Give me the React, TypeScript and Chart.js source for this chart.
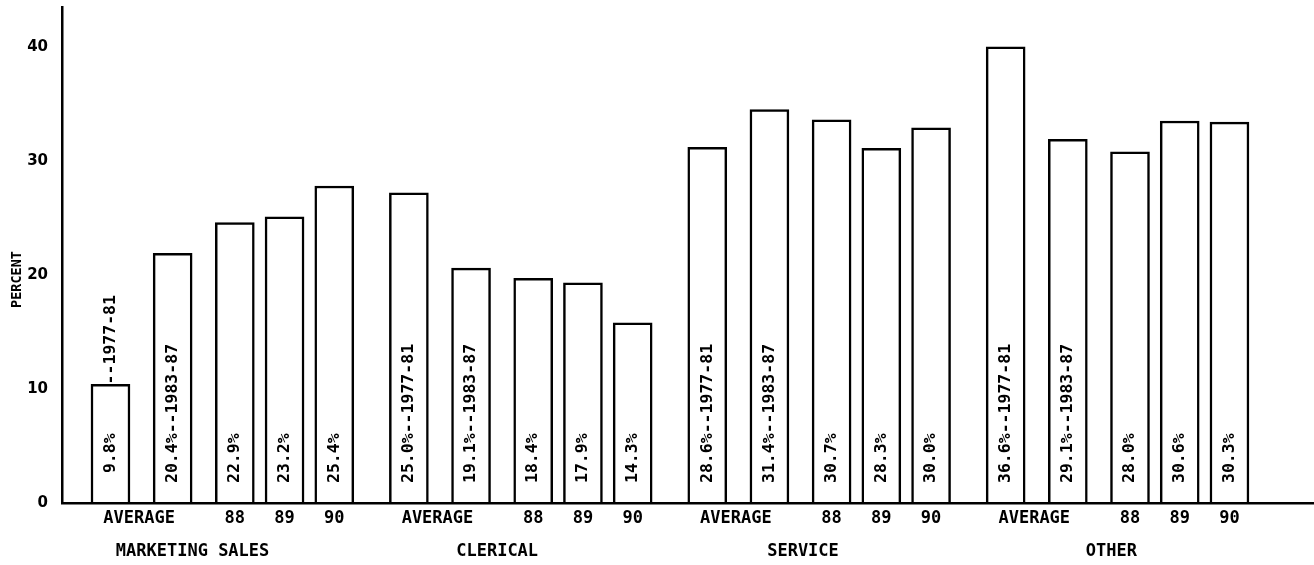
import React, { useEffect, useRef } from 'react';
import { Chart, registerables } from 'chart.js';

Chart.register(...registerables);

// ---- data ----
const GROUPS = ['MARKETING SALES', 'CLERICAL', 'SERVICE', 'OTHER'];
const SUB_LABELS = ['AVERAGE', '88', '89', '90'];
const PERIODS = ['1977-81', '1983-87', '', '', ''];
const Y_TICKS = [0, 10, 20, 30, 40];

// bar heights as drawn against the percent axis
const marketingHeight = [10.4, 21.9, 24.6, 25.1, 27.8];
const clericalHeight = [27.2, 20.6, 19.7, 19.3, 15.8];
const serviceHeight = [31.2, 34.5, 33.6, 31.1, 32.9];
const otherHeight = [40.0, 31.9, 30.8, 33.5, 33.4];

// percentages printed inside the bars
const marketingPct = [9.8, 20.4, 22.9, 23.2, 25.4];
const clericalPct = [25.0, 19.1, 18.4, 17.9, 14.3];
const servicePct = [28.6, 31.4, 30.7, 28.3, 30.0];
const otherPct = [36.6, 29.1, 28.0, 30.6, 30.3];

// ---- layout (not data) ----
const BAR_SLOTS = [0, 5, 10, 14, 18];
const GROUP_SPAN = 24;
const SUB_LABEL_SLOTS = [2.3, 10, 14, 18];
const GROUP_TITLE_SLOTS = [6.6, 7.1, 7.7, 8.5];
const X_MIN = -3.9;
const X_MAX = 96.8;
const Y_MAX = 43.5;

const MONO = '"DejaVu Sans Mono", monospace';

const noPad = (s: any) => {
  s.paddingTop = 0;
  s.paddingBottom = 0;
  s.paddingLeft = 0;
  s.paddingRight = 0;
};

export default function App() {
  const ref = useRef<HTMLCanvasElement | null>(null);

  useEffect(() => {
    const canvas = ref.current;
    if (!canvas) return;

    const heights = [marketingHeight, clericalHeight, serviceHeight, otherHeight];
    const pcts = [marketingPct, clericalPct, servicePct, otherPct];

    const points: { x: number; y: number }[] = [];
    const barTexts: { pct: string; period: string }[] = [];
    heights.forEach((arr, g) => {
      arr.forEach((h, i) => {
        points.push({ x: g * GROUP_SPAN + BAR_SLOTS[i], y: h });
        barTexts.push({
          pct: pcts[g][i].toFixed(1).padStart(4, ' ') + '%',
          period: PERIODS[i],
        });
      });
    });

    const subTickValues: number[] = [];
    const subTickTexts: string[] = [];
    GROUPS.forEach((_, g) => {
      SUB_LABELS.forEach((lab, j) => {
        subTickValues.push(g * GROUP_SPAN + SUB_LABEL_SLOTS[j]);
        subTickTexts.push(lab);
      });
    });
    const groupTickValues = GROUPS.map((_, g) => g * GROUP_SPAN + GROUP_TITLE_SLOTS[g]);

    const barTextPlugin = {
      id: 'barText',
      afterDatasetsDraw(chart: any) {
        const ctx = chart.ctx;
        const meta = chart.getDatasetMeta(0);
        ctx.save();
        ctx.font = `bold 16.5px ${MONO}`;
        ctx.fillStyle = '#000';
        ctx.textAlign = 'left';
        ctx.textBaseline = 'middle';
        meta.data.forEach((bar: any, k: number) => {
          const { x, y, base } = bar.getProps(['x', 'y', 'base'], true);
          const t = barTexts[k];
          const start = base - 20;
          const full = t.period ? `${t.pct}--${t.period}` : t.pct;
          const avail = start - y - 4;
          ctx.save();
          ctx.translate(x, start);
          ctx.rotate(-Math.PI / 2);
          if (ctx.measureText(full).width <= avail || !t.period) {
            ctx.fillText(full, 0, 0);
          } else {
            ctx.fillText(t.pct, 0, 0);
            ctx.fillText(`--${t.period}`, start - y, 0);
          }
          ctx.restore();
        });
        ctx.restore();
      },
    };

    const yTitlePlugin = {
      id: 'yTitle',
      afterDraw(chart: any) {
        const ctx = chart.ctx;
        const yScale = chart.scales.y;
        ctx.save();
        ctx.font = `bold 13.5px ${MONO}`;
        ctx.fillStyle = '#000';
        ctx.textAlign = 'center';
        ctx.textBaseline = 'middle';
        ctx.translate(17, yScale.getPixelForValue(19.6));
        ctx.rotate(-Math.PI / 2);
        ctx.fillText('PERCENT', 0, 0);
        ctx.restore();
      },
    };

    const chart = new Chart(canvas, {
      type: 'bar',
      data: {
        datasets: [
          {
            data: points as any,
            backgroundColor: '#ffffff',
            borderColor: '#000000',
            borderWidth: 2.5,
            barThickness: 39,
          },
        ],
      },
      options: {
        responsive: false,
        animation: false,
        events: [],
        layout: { padding: { top: 7, left: 0, right: 0, bottom: 0 } },
        plugins: {
          legend: { display: false },
          tooltip: { enabled: false },
        },
        scales: {
          x: {
            type: 'linear',
            position: 'bottom',
            offset: false,
            min: X_MIN,
            max: X_MAX,
            weight: 0,
            grid: { display: false, drawTicks: false, offset: false },
            border: { display: true, color: '#000', width: 2.5, z: 1 },
            afterBuildTicks: (s: any) => {
              s.ticks = subTickValues.map((v) => ({ value: v }));
            },
            afterFit: (s: any) => {
              s.height = 25;
              noPad(s);
            },
            ticks: {
              autoSkip: false,
              maxRotation: 0,
              minRotation: 0,
              padding: 5,
              color: '#000',
              font: { family: MONO, size: 17, weight: 'bold' },
              callback: (_v: any, i: number) => subTickTexts[i],
            },
          },
          x2: {
            type: 'linear',
            position: 'bottom',
            offset: false,
            min: X_MIN,
            max: X_MAX,
            weight: 1,
            grid: { display: false, drawTicks: false, offset: false },
            border: { display: false },
            afterBuildTicks: (s: any) => {
              s.ticks = groupTickValues.map((v) => ({ value: v }));
            },
            afterFit: (s: any) => {
              s.height = 37;
              noPad(s);
            },
            ticks: {
              autoSkip: false,
              maxRotation: 0,
              minRotation: 0,
              padding: 13,
              color: '#000',
              font: { family: MONO, size: 17, weight: 'bold' },
              callback: (_v: any, i: number) => GROUPS[i],
            },
          },
          y: {
            type: 'linear',
            min: 0,
            max: Y_MAX,
            grid: { display: false, drawTicks: false },
            border: { display: true, color: '#000', width: 2.5 },
            afterBuildTicks: (s: any) => {
              s.ticks = Y_TICKS.map((v) => ({ value: v }));
            },
            afterFit: (s: any) => {
              s.width = 62;
              noPad(s);
            },
            ticks: {
              padding: 14,
              color: '#000',
              font: { family: '"DejaVu Sans", sans-serif', size: 15, weight: 'bold' },
            },
          },
        },
      } as any,
      plugins: [barTextPlugin, yTitlePlugin],
    });

    return () => chart.destroy();
  }, []);

  return (
    <div style={{ position: 'absolute', left: 0, top: 0, width: 1314, height: 565, background: '#fff' }}>
      <canvas ref={ref} width={1314} height={565} style={{ width: 1314, height: 565, display: 'block' }} />
    </div>
  );
}
